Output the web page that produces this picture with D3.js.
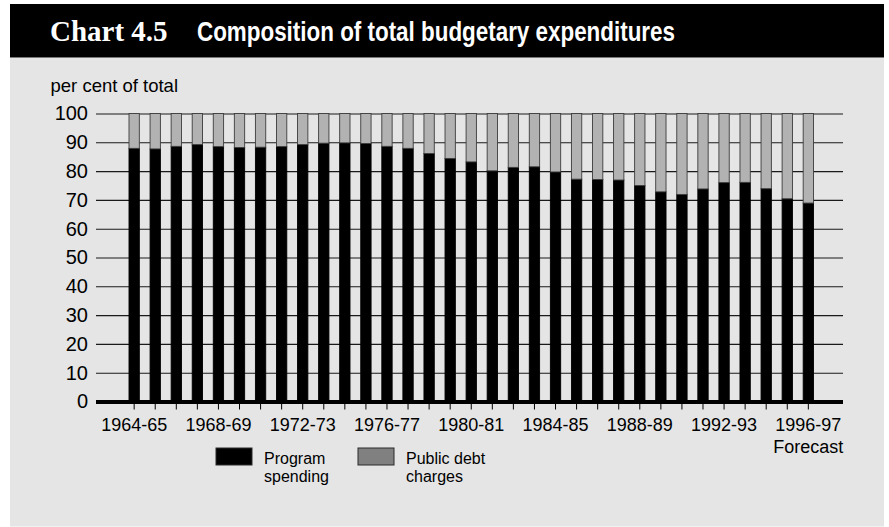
<!DOCTYPE html>
<html>
<head>
<meta charset="utf-8">
<script src="https://cdn.jsdelivr.net/npm/d3@7"></script>
<style>
  html, body { margin: 0; padding: 0; background: #ffffff; }
  svg { display: block; }
  text { font-family: "Liberation Sans", Arial, Helvetica, sans-serif; fill: #000; }
</style>
</head>
<body>
<svg id="chart" width="889" height="527"></svg>
<script>
// Fiscal years, 1964-65 to 1996-97 (last year is a forecast)
const years = [
  "1964-65", "1965-66", "1966-67", "1967-68", "1968-69", "1969-70", "1970-71",
  "1971-72", "1972-73", "1973-74", "1974-75", "1975-76", "1976-77", "1977-78",
  "1978-79", "1979-80", "1980-81", "1981-82", "1982-83", "1983-84", "1984-85",
  "1985-86", "1986-87", "1987-88", "1988-89", "1989-90", "1990-91", "1991-92",
  "1992-93", "1993-94", "1994-95", "1995-96", "1996-97"
];

// Share of total budgetary expenditures, per cent
const programSpending = [
  87.9, 87.7, 88.6, 89.2, 88.5, 88.2, 88.3, 88.5, 89.2, 89.7, 89.8,
  89.6, 88.6, 87.9, 86.1, 84.4, 83.2, 80.1, 81.3, 81.5, 79.7, 77.2,
  77.1, 76.9, 75.0, 72.8, 71.9, 73.8, 76.0, 76.1, 73.9, 70.4, 68.9
];
const publicDebtCharges = [
  12.1, 12.3, 11.4, 10.8, 11.5, 11.8, 11.7, 11.5, 10.8, 10.3, 10.2,
  10.4, 11.4, 12.1, 13.9, 15.6, 16.8, 19.9, 18.7, 18.5, 20.3, 22.8,
  22.9, 23.1, 25.0, 27.2, 28.1, 26.2, 24.0, 23.9, 26.1, 29.6, 31.1
];

const yTicks = [0, 10, 20, 30, 40, 50, 60, 70, 80, 90, 100];
const labelledYears = ["1964-65", "1968-69", "1972-73", "1976-77", "1980-81",
                       "1984-85", "1988-89", "1992-93", "1996-97"];
const seriesNames = ["Program spending", "Public debt charges"];
const seriesLegend = [["Program", "spending"], ["Public debt", "charges"]];
const seriesColors = ["#000000", "#b2b2b2"];

const svg = d3.select("#chart");

// Panel: black header band over a light grey body
svg.append("rect").attr("x", 10).attr("y", 57.5).attr("width", 874).attr("height", 469)
  .attr("fill", "#e5e5e5");
svg.append("rect").attr("x", 10).attr("y", 4).attr("width", 874).attr("height", 53.5)
  .attr("fill", "#000");

svg.append("text").attr("x", 50).attr("y", 40.5)
  .style("font-family", "'Liberation Serif', 'Times New Roman', serif")
  .style("font-weight", "bold").style("font-size", "29px").style("fill", "#fff")
  .text("Chart 4.5");
svg.append("text").attr("x", 197).attr("y", 40.5)
  .style("font-family", "'Liberation Sans Narrow', 'Liberation Sans', Arial, sans-serif")
  .style("font-weight", "bold").style("font-size", "27px").style("fill", "#fff")
  .attr("textLength", 478).attr("lengthAdjust", "spacingAndGlyphs")
  .text("Composition of total budgetary expenditures");

svg.append("text").attr("x", 50.5).attr("y", 92).style("font-size", "18.5px")
  .text("per cent of total");

// Scales
const gridLeft = 96, gridRight = 843;
const x = d3.scaleBand().domain(years).range([129, 813.5])
  .paddingInner(0.51).paddingOuter(0);
const y = d3.scaleLinear().domain([0, 100]).range([401.5, 113.5]);

// Horizontal gridlines and value labels
const yAxis = svg.append("g").attr("transform", `translate(${gridLeft},0)`)
  .call(d3.axisLeft(y).tickValues(yTicks).tickSize(-(gridRight - gridLeft))
    .tickPadding(8).tickFormat(d3.format("d")));
yAxis.select(".domain").remove();
yAxis.selectAll(".tick line").attr("stroke", "#1a1a1a").attr("stroke-width", 1.1);
yAxis.selectAll(".tick text").style("font-size", "20px")
  .style("font-family", "'Liberation Sans', Arial, sans-serif").attr("fill", "#000");

// Stacked bars
const rows = years.map((yr, i) => ({
  year: yr,
  [seriesNames[0]]: programSpending[i],
  [seriesNames[1]]: publicDebtCharges[i]
}));
const stacked = d3.stack().keys(seriesNames)(rows);

svg.append("g").selectAll("g").data(stacked).join("g")
  .attr("fill", (d, i) => seriesColors[i])
  .attr("stroke", (d, i) => i === 0 ? "#000" : "#3c3c3c")
  .attr("stroke-width", 0.9)
  .selectAll("rect").data(d => d).join("rect")
  .attr("x", d => x(d.data.year))
  .attr("width", x.bandwidth())
  .attr("y", d => y(d[1]))
  .attr("height", d => y(d[0]) - y(d[1]));

// Baseline
svg.append("line").attr("x1", gridLeft).attr("x2", gridRight)
  .attr("y1", y(0) + 0.5).attr("y2", y(0) + 0.5)
  .attr("stroke", "#000").attr("stroke-width", 4);

// Year axis: a tick under every bar, a label every fourth year
const xAxis = svg.append("g").attr("transform", `translate(0,${y(0) + 2.5})`)
  .call(d3.axisBottom(x).tickSize(5.5).tickPadding(0)
    .tickFormat(d => labelledYears.includes(d) ? d : ""));
xAxis.select(".domain").remove();
xAxis.selectAll(".tick line").attr("stroke", "#000").attr("stroke-width", 1);
xAxis.selectAll(".tick text").attr("y", 27).attr("dy", 0).style("font-size", "18px")
  .style("font-family", "'Liberation Sans', Arial, sans-serif").attr("fill", "#000");

svg.append("text")
  .attr("x", x(years[years.length - 1]) + x.bandwidth() / 2).attr("y", 453)
  .attr("text-anchor", "middle").style("font-size", "18px").text("Forecast");

// Legend
const legendX = [216, 358];
const legendFill = ["#000000", "#808080"];
const legend = svg.append("g").selectAll("g").data(seriesNames).join("g")
  .attr("transform", (d, i) => `translate(${legendX[i]},448)`);
legend.append("rect").attr("width", 36).attr("height", 17)
  .attr("fill", (d, i) => legendFill[i]).attr("stroke", "#2a2a2a").attr("stroke-width", 1);
legend.each(function (d, i) {
  const t = d3.select(this).append("text").attr("x", 48).attr("y", 15.5)
    .style("font-size", "16px");
  seriesLegend[i].forEach((line, j) => {
    t.append("tspan").attr("x", 48).attr("dy", j === 0 ? 0 : 18.3).text(line);
  });
});
</script>
</body>
</html>
